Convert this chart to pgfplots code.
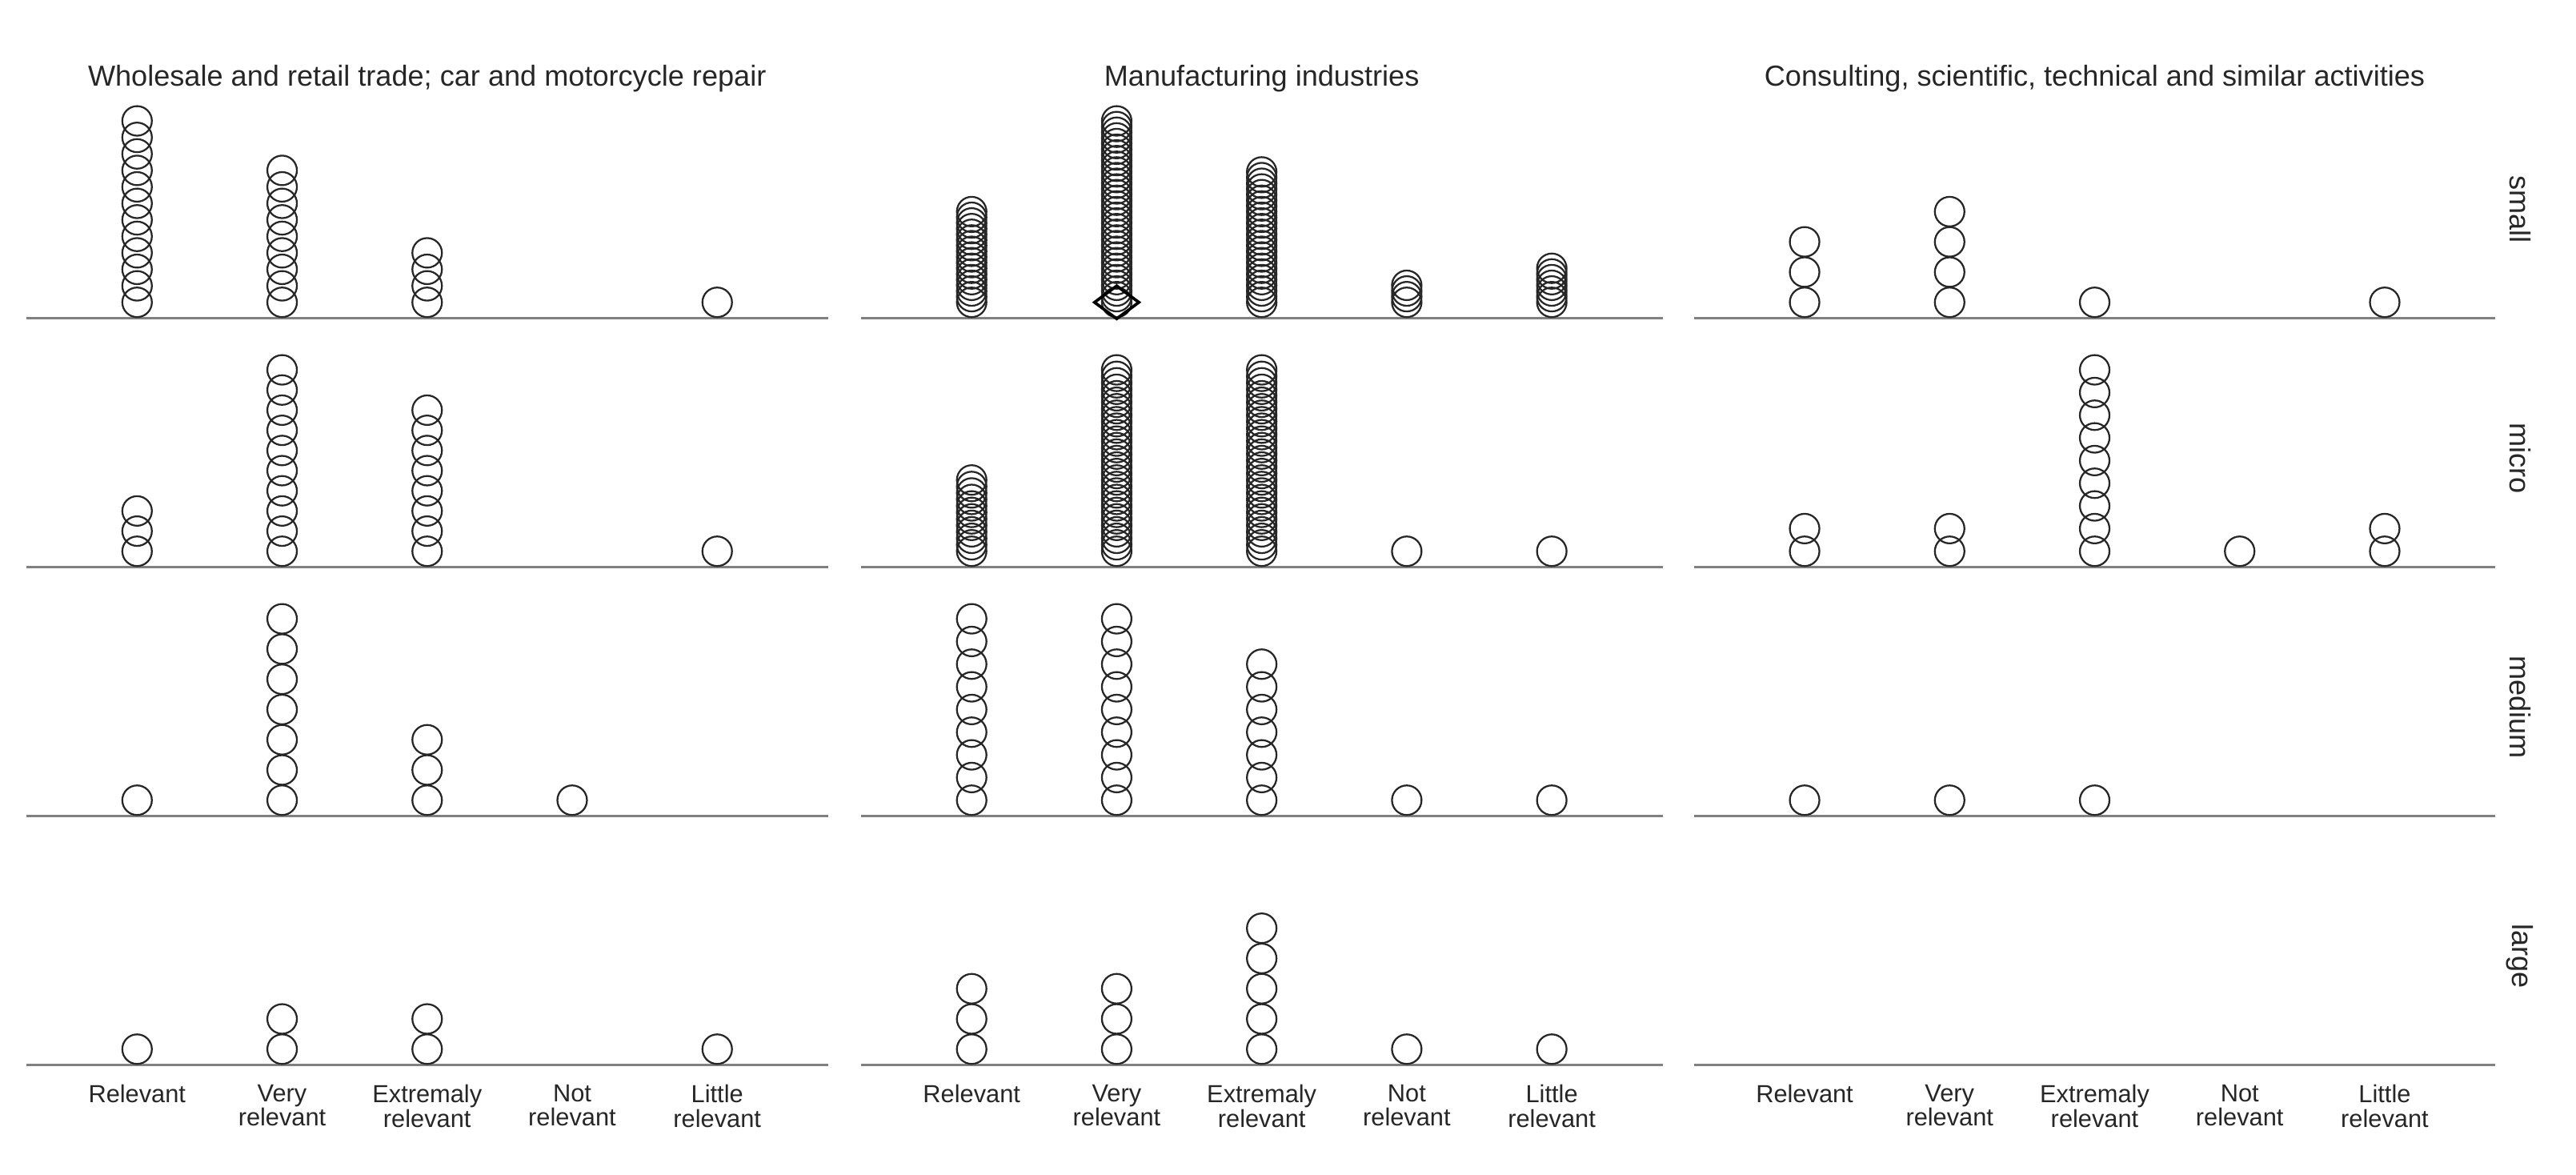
\documentclass[border=0pt]{standalone}
\usepackage{fontspec}
\setmainfont{Liberation Sans}
\usepackage{pgfplots}
\pgfplotsset{compat=1.18}

\pgfplotsset{
  panel/.style={
    scale only axis, width=244pt, height=66pt,
    xmin=0.236, xmax=5.764,
    axis x line=bottom, axis y line=none,
    x axis line style={-, draw=black!50, line width=0.8pt},
    xtick={1,2,3,4,5}, xticklabels={}, major tick length=0pt,
    ytick=\empty,
    clip=false,
    anchor=south west,
    ymin=\ymn, ymax=\ymx,
  },
  dots/.style={only marks, mark=o, mark size=4.5pt,
    mark options={line width=0.55pt, draw=black!85}},
  labs/.style={
    xticklabels={Relevant,{Very\\relevant},{Extremaly\\relevant},{Not\\relevant},{Little\\relevant}},
    xticklabel style={align=center, font=\fontsize{7.5}{7.5}\selectfont,
      anchor=north, inner sep=0pt, yshift=-5.8pt, text=black!85}},
}
\newcommand{\setpanel}[1]{%
  \pgfmathsetmacro{\dsp}{min(9.2,55.2/max(#1-1,1))}%
  \pgfmathsetmacro{\ymn}{1-4.75/\dsp}%
  \pgfmathsetmacro{\ymx}{\ymn+66/\dsp}}
\newcommand{\ttl}[1]{\node[font=\fontsize{8.8}{10}\selectfont, text=black!85, yshift=72.75pt] at (rel axis cs:0.5,0) {#1};}
\newcommand{\strip}[1]{\node[font=\fontsize{8.8}{10}\selectfont, text=black!85, rotate=-90] at ([xshift=7.5pt]rel axis cs:1,0.5) {#1};}

\begin{document}
\begin{tikzpicture}
\useasboundingbox (0pt,-33.5pt) rectangle (784pt,324pt);

% ===== Row: small =====
\setpanel{12}
\begin{axis}[panel, at={(8pt,227.25pt)}]
\addplot[dots] coordinates {
(1,1)(1,2)(1,3)(1,4)(1,5)(1,6)(1,7)(1,8)(1,9)(1,10)(1,11)(1,12)
(2,1)(2,2)(2,3)(2,4)(2,5)(2,6)(2,7)(2,8)(2,9)
(3,1)(3,2)(3,3)(3,4)
(5,1)};
\ttl{Wholesale and retail trade; car and motorcycle repair}
\end{axis}

\setpanel{33}
\begin{axis}[panel, at={(262pt,227.25pt)}]
\addplot[dots] coordinates {
(1,1)(1,2)(1,3)(1,4)(1,5)(1,6)(1,7)(1,8)(1,9)(1,10)(1,11)(1,12)(1,13)(1,14)(1,15)(1,16)(1,17)
(2,1)(2,2)(2,3)(2,4)(2,5)(2,6)(2,7)(2,8)(2,9)(2,10)(2,11)(2,12)(2,13)(2,14)(2,15)(2,16)(2,17)(2,18)(2,19)(2,20)(2,21)(2,22)(2,23)(2,24)(2,25)(2,26)(2,27)(2,28)(2,29)(2,30)(2,31)(2,32)(2,33)
(3,1)(3,2)(3,3)(3,4)(3,5)(3,6)(3,7)(3,8)(3,9)(3,10)(3,11)(3,12)(3,13)(3,14)(3,15)(3,16)(3,17)(3,18)(3,19)(3,20)(3,21)(3,22)(3,23)(3,24)
(4,1)(4,2)(4,3)(4,4)
(5,1)(5,2)(5,3)(5,4)(5,5)(5,6)(5,7)};
\addplot[only marks, mark=diamond, mark size=5pt, mark options={line width=0.9pt, draw=black, xscale=1.8}] coordinates {(2,1)};
\ttl{Manufacturing industries}
\end{axis}

\setpanel{4}
\begin{axis}[panel, at={(515.5pt,227.25pt)}]
\addplot[dots] coordinates {
(1,1)(1,2)(1,3)
(2,1)(2,2)(2,3)(2,4)
(3,1)
(5,1)};
\ttl{Consulting, scientific, technical and similar activities}
\strip{small}
\end{axis}

% ===== Row: micro =====
\setpanel{10}
\begin{axis}[panel, at={(8pt,151.5pt)}]
\addplot[dots] coordinates {
(1,1)(1,2)(1,3)
(2,1)(2,2)(2,3)(2,4)(2,5)(2,6)(2,7)(2,8)(2,9)(2,10)
(3,1)(3,2)(3,3)(3,4)(3,5)(3,6)(3,7)(3,8)
(5,1)};
\end{axis}

\setpanel{29}
\begin{axis}[panel, at={(262pt,151.5pt)}]
\addplot[dots] coordinates {
(1,1)(1,2)(1,3)(1,4)(1,5)(1,6)(1,7)(1,8)(1,9)(1,10)(1,11)(1,12)
(2,1)(2,2)(2,3)(2,4)(2,5)(2,6)(2,7)(2,8)(2,9)(2,10)(2,11)(2,12)(2,13)(2,14)(2,15)(2,16)(2,17)(2,18)(2,19)(2,20)(2,21)(2,22)(2,23)(2,24)(2,25)(2,26)(2,27)(2,28)(2,29)
(3,1)(3,2)(3,3)(3,4)(3,5)(3,6)(3,7)(3,8)(3,9)(3,10)(3,11)(3,12)(3,13)(3,14)(3,15)(3,16)(3,17)(3,18)(3,19)(3,20)(3,21)(3,22)(3,23)(3,24)(3,25)(3,26)(3,27)(3,28)(3,29)
(4,1)
(5,1)};
\end{axis}

\setpanel{9}
\begin{axis}[panel, at={(515.5pt,151.5pt)}]
\addplot[dots] coordinates {
(1,1)(1,2)
(2,1)(2,2)
(3,1)(3,2)(3,3)(3,4)(3,5)(3,6)(3,7)(3,8)(3,9)
(4,1)
(5,1)(5,2)};
\strip{micro}
\end{axis}

% ===== Row: medium =====
\setpanel{7}
\begin{axis}[panel, at={(8pt,75.75pt)}]
\addplot[dots] coordinates {
(1,1)
(2,1)(2,2)(2,3)(2,4)(2,5)(2,6)(2,7)
(3,1)(3,2)(3,3)
(4,1)};
\end{axis}

\setpanel{9}
\begin{axis}[panel, at={(262pt,75.75pt)}]
\addplot[dots] coordinates {
(1,1)(1,2)(1,3)(1,4)(1,5)(1,6)(1,7)(1,8)(1,9)
(2,1)(2,2)(2,3)(2,4)(2,5)(2,6)(2,7)(2,8)(2,9)
(3,1)(3,2)(3,3)(3,4)(3,5)(3,6)(3,7)
(4,1)
(5,1)};
\end{axis}

\setpanel{1}
\begin{axis}[panel, at={(515.5pt,75.75pt)}]
\addplot[dots] coordinates {
(1,1)
(2,1)
(3,1)};
\strip{medium}
\end{axis}

% ===== Row: large =====
\setpanel{2}
\begin{axis}[panel, labs, at={(8pt,0pt)}]
\addplot[dots] coordinates {
(1,1)
(2,1)(2,2)
(3,1)(3,2)
(5,1)};
\end{axis}

\setpanel{5}
\begin{axis}[panel, labs, at={(262pt,0pt)}]
\addplot[dots] coordinates {
(1,1)(1,2)(1,3)
(2,1)(2,2)(2,3)
(3,1)(3,2)(3,3)(3,4)(3,5)
(4,1)
(5,1)};
\end{axis}

\setpanel{1}
\begin{axis}[panel, labs, at={(515.5pt,0pt)}]
\strip{large}
\end{axis}

\end{tikzpicture}
\end{document}
